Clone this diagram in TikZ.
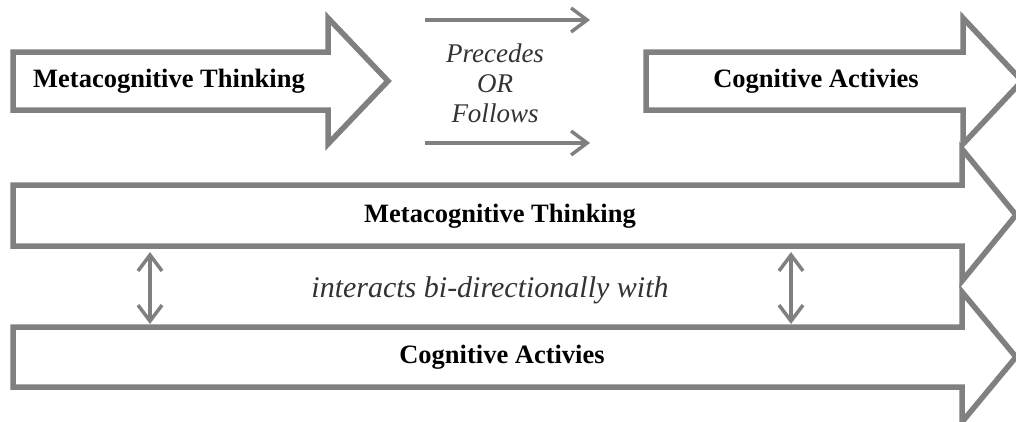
\documentclass[tikz,border=0pt]{standalone}
\usepackage{fontspec}
\setmainfont{Liberation Serif}[ItalicFont={Liberation Serif Italic}, BoldFont={Liberation Serif Bold}]
\usetikzlibrary{arrows.meta}
\definecolor{arrowgray}{HTML}{808080}

\begin{document}
\begin{tikzpicture}[x=1pt, y=-1pt,
    block/.style={draw=arrowgray, line width=5.5pt, fill=white},
    flowline/.style={draw=arrowgray, line width=3.5pt},
    barb/.tip={Straight Barb[length=16pt, width=24pt]},
    boxtext/.style={font=\fontsize{26.5}{30}\selectfont\bfseries}]
  \useasboundingbox (0, 0) rectangle (1016, 421);
  \clip (0, 0) rectangle (1016, 421);
  % top row
  \draw[block] (13, 52) -- (328, 52) -- (328, 18) -- (388, 81) -- (328, 144) -- (328, 110) -- (13, 110) -- cycle;
  \draw[block] (646, 52) -- (963, 52) -- (963, 18) -- (1022, 81) -- (963, 144) -- (963, 110) -- (646, 110) -- cycle;
  \node[boxtext] (meta1) at (169, 81) {Metacognitive Thinking};
  \node[boxtext] (cog1) at (816, 81) {Cognitive Activies};
  \coordinate (pre1) at (425, 20);
  \coordinate (pre2) at (590, 20);
  \coordinate (fol1) at (425, 143);
  \coordinate (fol2) at (590, 143);
  \draw[flowline, -barb] (pre1) -- (pre2);
  \draw[flowline, -barb] (fol1) -- (fol2);
  \node[font=\fontsize{27}{30}\selectfont\itshape, align=center, text=black!80] (order) at (495, 83) {Precedes\\OR\\Follows};
  % bottom rows
  \draw[block] (13, 185) -- (962, 185) -- (962, 149) -- (1016, 215) -- (962, 281) -- (962, 246) -- (13, 246) -- cycle;
  \draw[block] (13, 327) -- (962, 327) -- (962, 292) -- (1016, 357) -- (962, 422) -- (962, 387) -- (13, 387) -- cycle;
  \node[boxtext] (meta2) at (500, 216) {Metacognitive Thinking};
  \node[boxtext] (cog2) at (502, 357) {Cognitive Activies};
  \node[font=\fontsize{30}{32}\selectfont\itshape, text=black!80] (interact) at (490, 290) {interacts bi-directionally with};
  \foreach \xx [count=\i] in {150, 791} {
    \coordinate (up\i) at (\xx, 252);
    \coordinate (down\i) at (\xx, 324);
    \draw[flowline, barb-barb] (up\i) -- (down\i);
  }
\end{tikzpicture}
\end{document}
